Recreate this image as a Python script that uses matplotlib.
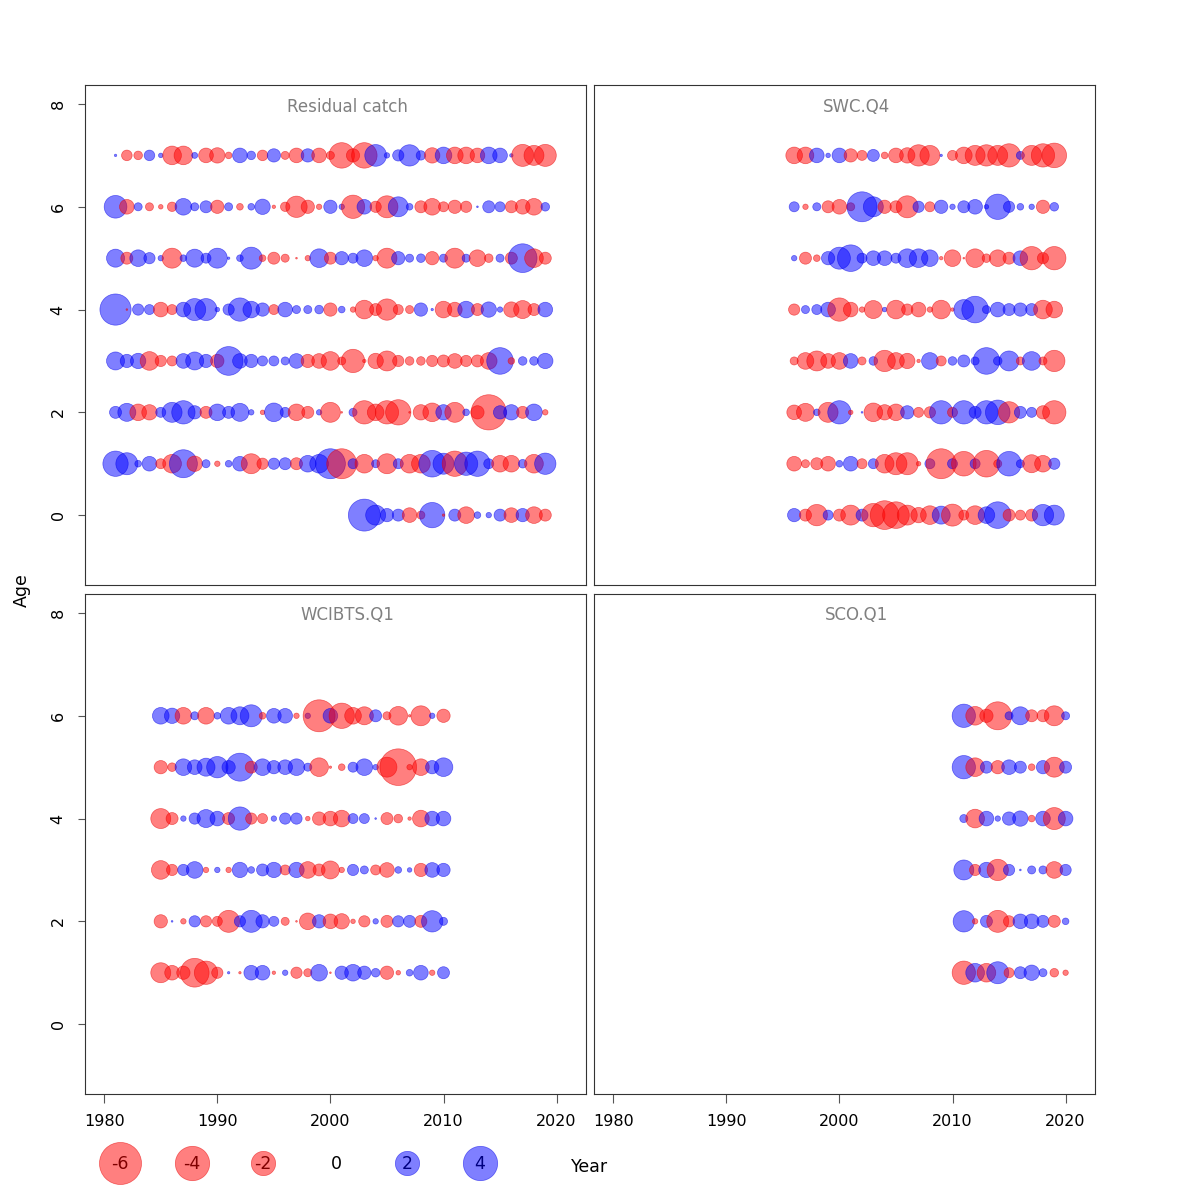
import matplotlib
matplotlib.use("Agg")
import matplotlib.pyplot as plt

# residuals, one list per age, years in order
rc_years = list(range(1981, 2020))
rc_age0_years = list(range(2003, 2020))
rc_res = {
    7: [0.02, -0.38, -0.25, 0.38, 0.07, -1.18, -1.18, 0.12, -0.73, -0.8,
        -0.15, 0.73, 0.25, -0.38, 0.6, -0.22, -0.73, 0.6, -0.73, -0.22,
        -2.2, -0.6, -2.2, 1.6, 0.1, 0.43, 1.54, 0.3, -0.8, 0.94,
        -0.94, -0.94, -0.73, 0.94, 0.73, 0.04, -1.64, -1.35, -1.64],
    6: [1.74, -0.73, 0.22, -0.22, -0.07, -0.3, 0.94, 0.22, 0.49, -0.6,
        0.22, -0.15, 0.15, 0.8, -0.04, -0.3, -1.54, -0.6, -0.1, 0.6,
        0.1, -1.84, 0.73, -0.43, -1.64, 1.35, 0.15, -0.49, -0.94, -0.34,
        -0.6, -0.43, 0.01, 0.49, 0.34, -0.49, -0.73, -0.94, 0.25],
    5: [1.1, -0.49, 0.94, 0.43, 0.1, -1.35, 0.15, 1.1, 0.34, 1.35,
        0.02, 0.15, 1.64, -0.15, -0.49, -0.22, -0.01, -0.1, 1.18, -0.49,
        0.6, 0.34, 0.94, -0.1, -1.35, 0.6, 0.22, 0.25, -0.6, 0.22,
        -1.35, 0.22, -0.94, -0.25, 0.22, -0.49, 2.8, -1.18, -0.49],
    4: [3.3, -0.01, 0.43, 0.34, -0.73, -0.34, 0.73, 1.64, 1.64, 0.07,
        0.43, 1.84, 0.94, 0.6, -0.34, 0.73, 0.22, 0.22, 0.25, -0.6,
        0.15, -0.1, -1.18, -0.49, -1.54, -0.34, -0.22, 0.6, 0.02, -0.94,
        -0.73, 0.94, -0.49, 0.8, 0.1, -0.8, -1.1, -0.49, 0.73],
    3: [1.1, 0.6, 0.8, -1.18, -0.43, -0.34, 0.73, 1.1, 0.6, -0.6,
        2.8, 0.73, 0.6, 0.34, 0.34, 0.22, 0.73, -0.6, -0.73, -1.18,
        -0.22, -1.84, -0.04, -0.8, -1.35, -0.43, -0.25, -0.25, -0.43, -0.49,
        -0.73, -0.43, -0.49, -0.94, 2.4, -0.15, 0.25, 0.25, 0.8],
    2: [0.49, 1.1, -0.94, -0.8, 0.34, 1.35, 1.84, 0.6, -0.49, 0.94,
        0.49, 1.1, 0.1, -0.07, 1.18, 0.34, -0.94, -0.49, 0.1, -1.35,
        -0.01, 0.22, -1.84, -0.94, -1.84, -2.17, -0.01, -0.8, -1.18, 0.8,
        -1.35, 0.15, -0.6, -4.2, 0.6, 0.8, -0.49, 0.94, -0.1],
    1: [2.17, 1.64, 0.15, 0.73, -0.34, -1.18, 2.65, -0.8, 0.22, -0.1,
        0.15, 0.73, -1.35, -0.43, 0.43, 0.49, -0.49, 0.94, 1.18, 3.04,
        -3.04, 0.34, -1.18, 0.22, -1.35, 0.34, -1.18, -1.18, 2.4, 1.5,
        -2.17, 1.84, 2.17, 0.34, -0.94, -0.94, 0.25, -1.18, 1.54],
}
rc_age0 = [3.46, 1.35, 0.6, 0.49, -0.73, -0.22, 2.17, -0.02, 0.49, -0.94,
           0.15, 0.1, 0.49, -0.73, 0.6, -0.94, -0.49]

swc_years = list(range(1996, 2020))
swc_res = {
    7: [-0.94, -0.94, 0.73, 0.07, 0.73, -0.6, -0.34, 0.49, -0.15, -0.73,
        -0.8, -1.54, -1.35, 0.02, -0.34, -0.94, -1.35, -1.54, -1.35, -1.84,
        0.22, -1.35, -1.84, -2.05],
    6: [0.34, -0.1, 0.22, -0.49, -0.73, -0.22, 3.04, 1.35, -0.6, -0.49,
        -1.64, 0.43, -0.34, 0.6, 0.1, 0.49, 0.73, 0.07, 2.17, 0.43,
        0.15, 0.1, -0.6, 0.25],
    5: [0.1, -0.49, -0.15, 0.6, 1.64, 2.4, 0.34, 0.73, 0.73, 0.34,
        1.18, 1.18, 0.94, -0.04, -0.94, -0.01, -1.18, -0.25, -0.94, -0.49,
        0.73, -1.84, -0.43, -1.84],
    4: [-0.43, 0.22, 0.34, 0.73, -1.84, -0.73, -0.1, -1.1, 0.07, -1.18,
        -0.43, -0.73, -0.1, -1.18, -0.04, 1.35, 2.4, 0.22, 0.73, 0.49,
        0.6, 0.49, -1.18, -0.94],
    3: [-0.22, -0.94, -1.35, -0.73, -0.94, 0.73, -0.22, 0.25, -1.54, -0.94,
        -0.8, -0.04, 0.94, -0.34, 0.25, 0.49, 0.22, 2.4, 0.25, 1.35,
        -0.22, 1.18, -0.22, -1.54],
    2: [-0.73, -1.1, 0.15, -1.35, 1.84, -0.07, 0.01, -1.18, -0.8, -0.94,
        0.6, -0.34, -0.43, 1.84, -0.34, 1.84, 0.49, 1.84, 2.05, -1.54,
        0.49, 0.34, -0.6, -1.84],
    1: [-0.73, -0.22, -0.49, -0.73, 0.15, 0.73, -0.34, 0.34, -1.18, -1.64,
        -1.64, -0.07, 0.34, -3.04, 0.34, -2.05, 0.34, -2.4, -0.22, 2.05,
        0.22, -1.1, -0.94, 0.43],
    0: [0.6, -0.49, -1.54, 0.34, -0.49, -1.35, 0.49, -1.84, -2.8, -2.4,
        -1.35, -0.8, -1.18, 1.1, -1.64, -0.34, -1.18, 0.94, 2.4, -0.49,
        -0.34, -0.49, 1.54, 1.35],
}

wci_years = list(range(1985, 2011))
wci_res = {
    6: [0.94, 0.8, -0.94, 0.22, -0.94, 0.15, 0.94, 1.1, 1.64, -0.15,
        0.73, 0.73, -0.1, 0.1, -3.46, 0.73, -2.17, -0.94, -1.1, 0.49,
        -0.22, -1.18, -0.02, -1.35, 0.1, -0.6],
    5: [-0.6, -0.25, 0.94, 0.73, 1.1, 1.54, 0.6, 2.65, -0.49, 0.94,
        0.6, 0.73, 0.94, 0.22, -1.18, -0.02, -0.15, 0.34, 0.94, 0.1,
        -1.35, -4.55, -0.1, -0.94, 0.6, 1.18],
    4: [-1.35, -0.49, 0.1, 0.43, 1.1, 0.73, -0.49, 1.84, -0.43, -0.34,
        0.1, 0.43, 0.43, -0.07, -0.6, -0.73, -0.94, 0.34, 0.34, 0.01,
        -0.49, -0.25, -0.04, -0.94, 0.73, 0.73],
    3: [-1.18, -0.43, 0.43, 0.94, -0.1, 0.1, -0.1, 0.8, 0.15, 0.49,
        0.8, -0.34, 0.8, -0.94, -0.49, -1.1, -0.1, 0.43, 0.22, -0.34,
        -0.73, 0.15, 0.07, -0.6, 0.73, 0.6],
    2: [-0.6, 0.01, -0.1, 0.43, -0.43, -0.34, -1.64, 0.43, 1.64, 0.6,
        0.34, -0.22, -0.01, -0.94, 0.6, -0.73, -0.8, -0.07, -0.43, 0.1,
        -0.49, 0.43, 0.49, -0.49, 1.54, 0.22],
    1: [-1.35, -0.73, -0.6, -2.8, -1.84, -0.43, 0.02, -0.02, 0.73, 0.73,
        -0.04, 0.1, -0.43, -0.22, 0.94, -0.01, 0.6, 0.94, 0.6, 0.25,
        -0.6, -0.07, 0.15, 0.73, -0.1, 0.49],
}

sco_years = list(range(2011, 2021))
sco_res = {
    6: [1.84, -1.18, -0.6, -2.65, 0.22, 1.1, -0.49, -0.49, -1.35, 0.22],
    5: [1.84, -1.18, 0.49, -0.6, 0.73, 0.49, -0.15, 0.6, -1.35, 0.49],
    4: [0.22, -1.18, 0.73, 0.1, 0.6, 0.8, -0.15, 0.73, -1.64, 0.73],
    3: [1.35, -0.43, 0.8, -1.54, 0.43, 0.01, 0.22, 0.22, -0.94, 0.43],
    2: [1.54, -0.1, 0.49, -1.64, -0.43, 0.73, 0.73, 0.49, -0.49, 0.15],
    1: [-1.84, 1.18, -1.18, 1.64, -0.34, 0.49, 0.8, 0.22, -0.25, -0.1],
}

legend_vals = [-6, -4, -2, 0, 2, 4]
year_ticks = [1980, 1990, 2000, 2010, 2020]
age_ticks = [0, 2, 4, 6, 8]

RED = (1, 0, 0, 0.5)
BLUE = (0, 0, 1, 0.5)
RED_EDGE = (0.9, 0, 0, 0.55)
BLUE_EDGE = (0, 0, 0.9, 0.55)
SCALE = 153.0  # marker area (pt^2) per unit of |residual|


def bubbles(ax, years, ages, vals):
    cols = [RED if v < 0 else BLUE for v in vals]
    edges = [RED_EDGE if v < 0 else BLUE_EDGE for v in vals]
    sizes = [SCALE * abs(v) for v in vals]
    ax.scatter(years, ages, s=sizes, c=cols, edgecolors=edges, linewidths=0.5)


def panel(ax, title, years, res, extra=None):
    for age, vals in res.items():
        bubbles(ax, years, [age] * len(vals), vals)
    if extra is not None:
        bubbles(ax, extra[0], [extra[1]] * len(extra[2]), extra[2])
    ax.set_xlim(1978.3, 2022.6)
    ax.set_ylim(-1.36, 8.37)
    ax.text(0.5 + 12 / 501, 1 - 21.5 / 500, title, transform=ax.transAxes,
            ha="center", va="center", color="#808080", fontsize=12)
    for sp in ax.spines.values():
        sp.set_linewidth(0.8)
        sp.set_color("#333333")


fig = plt.figure(figsize=(12, 12), dpi=100)
W = 501 / 1200
H = 500 / 1200
axes = {
    "tl": fig.add_axes([85 / 1200, 1 - 585 / 1200, W, H]),
    "tr": fig.add_axes([594 / 1200, 1 - 585 / 1200, W, H]),
    "bl": fig.add_axes([85 / 1200, 1 - 1094 / 1200, W, H]),
    "br": fig.add_axes([594 / 1200, 1 - 1094 / 1200, W, H]),
}

panel(axes["tl"], "Residual catch", rc_years, rc_res, (rc_age0_years, 0, rc_age0))
panel(axes["tr"], "SWC.Q4", swc_years, swc_res)
panel(axes["bl"], "WCIBTS.Q1", wci_years, wci_res)
panel(axes["br"], "SCO.Q1", sco_years, sco_res)

for key, ax in axes.items():
    if key in ("bl", "br"):
        ax.set_xticks(year_ticks)
        ax.tick_params(axis="x", length=6.5, width=0.8, color="#555555",
                       labelsize=11.5, pad=8)
    else:
        ax.set_xticks([])
    if key in ("tl", "bl"):
        ax.set_yticks(age_ticks)
        ax.tick_params(axis="y", length=5, width=0.8, color="#555555",
                       labelsize=11.5, pad=9)
        for lab in ax.get_yticklabels():
            lab.set_rotation(90)
            lab.set_va("center")
    else:
        ax.set_yticks([])

fig.text(22 / 1200, 1 - 590 / 1200, "Age", rotation=90, ha="center",
         va="center", fontsize=12.5)

# legend strip along the bottom, in pixel coordinates
leg = fig.add_axes([0, 0, 1, 1], facecolor="none")
leg.set_xlim(0, 1200)
leg.set_ylim(1200, 0)
leg.axis("off")
leg_x = [120, 192, 263, 336, 407, 480]
for x, v in zip(leg_x, legend_vals):
    leg.text(x, 1164, str(v), ha="center", va="center", fontsize=12.5, zorder=1)
    if v != 0:
        col = RED if v < 0 else BLUE
        edge = RED_EDGE if v < 0 else BLUE_EDGE
        leg.scatter([x], [1163], s=SCALE * abs(v), c=[col], edgecolors=[edge],
                    linewidths=0.5, zorder=2)
leg.text(590, 1167, "Year", ha="center", va="center", fontsize=12.5)

fig.savefig("out.png", dpi=100)
